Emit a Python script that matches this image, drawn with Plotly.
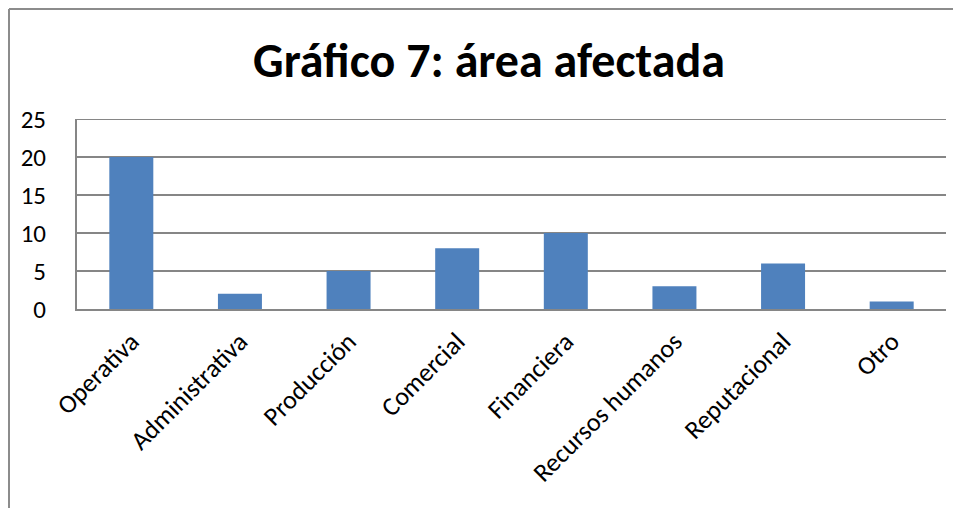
import plotly.graph_objects as go

categories = ["Operativa", "Administrativa", "Producción", "Comercial", "Financiera",
              "Recursos humanos", "Reputacional", "Otro"]
values = [20, 2, 5, 8, 10, 3, 6, 1]
y_ticks = [0, 5, 10, 15, 20, 25]

# page body has an 8px margin; the figure is laid out so the result lands on the page grid
OFF = 8
W, H = 961 - OFF, 508 - OFF
L = 77 - OFF
T = 119 - OFF
R = W - (946 - OFF)
B = H - (309 - OFF)
pw, ph = W - L - R, H - T - B

font_family = "Carlito, Calibri, Lato, 'Open Sans', sans-serif"
grid_col = "#868686"
border_col = "#8c8c8c"

fig = go.Figure(go.Bar(x=categories, y=values, marker=dict(color="#4F81BD", line=dict(width=0))))

top_y = (ph + T - 1) / ph
left_x = (1 - L) / pw

fig.update_layout(
    width=W, height=H,
    margin=dict(l=L, r=R, t=T, b=B, pad=0),
    paper_bgcolor="white", plot_bgcolor="white",
    bargap=0.595,
    showlegend=False,
    font=dict(family=font_family, color="black"),
    title=dict(text="<b>Gráfico 7: área afectada</b>", x=(489 - OFF) / W, xanchor="center",
               y=1 - (60 - OFF) / H, yanchor="middle", font=dict(size=48, family=font_family, color="black")),
    xaxis=dict(showgrid=False, showline=True, linecolor=grid_col, linewidth=2,
               tickangle=-45, tickfont=dict(size=26), ticks="outside", ticklen=5, tickcolor="white"),
    yaxis=dict(range=[0, 25], tickvals=y_ticks, showgrid=True, gridcolor=grid_col, gridwidth=2,
               showline=True, linecolor=grid_col, linewidth=2, zeroline=False,
               tickfont=dict(size=25), ticks="", ticklabelstandoff=24),
    shapes=[
        dict(type="line", xref="paper", yref="y", x0=0, x1=1, y0=25, y1=25,
             line=dict(color=grid_col, width=2), layer="below"),
        dict(type="line", xref="paper", yref="paper",
             x0=left_x, x1=left_x, y0=top_y, y1=-3,
             line=dict(color=border_col, width=2)),
        dict(type="line", xref="paper", yref="paper",
             x0=left_x, x1=(W - L + 5) / pw, y0=top_y, y1=top_y,
             line=dict(color=border_col, width=2)),
    ],
)

fig.write_html("out.html")
